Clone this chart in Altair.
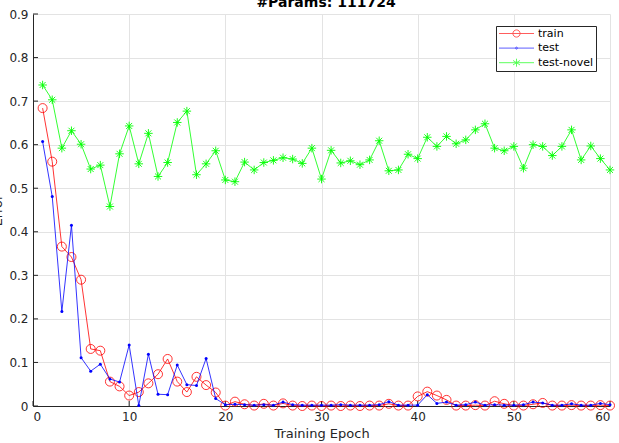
import altair as alt
import pandas as pd

# Error per training epoch for the three evaluation splits
epochs = list(range(1, 61))

train_err = [
    0.684, 0.561, 0.366, 0.342, 0.290, 0.131, 0.127, 0.056, 0.045, 0.024,
    0.032, 0.052, 0.073, 0.108, 0.056, 0.032, 0.067, 0.048, 0.031, 0.001,
    0.010, 0.004, 0.001, 0.005, 0.001, 0.006, 0.001, 0.000, 0.001, 0.000,
    0.001, 0.000, 0.001, 0.000, 0.001, 0.001, 0.005, 0.001, 0.001, 0.022,
    0.033, 0.024, 0.014, 0.001, 0.001, 0.002, 0.001, 0.011, 0.005, 0.001,
    0.001, 0.004, 0.007, 0.001, 0.001, 0.002, 0.001, 0.001, 0.002, 0.001,
]

test_err = [
    0.607, 0.481, 0.217, 0.415, 0.111, 0.080, 0.096, 0.062, 0.055, 0.140,
    0.001, 0.119, 0.027, 0.026, 0.094, 0.049, 0.047, 0.109, 0.017, 0.003,
    0.004, 0.003, 0.002, 0.003, 0.002, 0.009, 0.003, 0.002, 0.002, 0.002,
    0.002, 0.003, 0.002, 0.002, 0.002, 0.003, 0.010, 0.002, 0.002, 0.002,
    0.026, 0.006, 0.009, 0.002, 0.003, 0.009, 0.002, 0.003, 0.002, 0.002,
    0.003, 0.009, 0.007, 0.002, 0.002, 0.005, 0.002, 0.002, 0.006, 0.003,
]

novel_err = [
    0.737, 0.703, 0.592, 0.632, 0.601, 0.544, 0.553, 0.458, 0.579, 0.643,
    0.556, 0.626, 0.527, 0.559, 0.651, 0.677, 0.531, 0.556, 0.586, 0.519,
    0.515, 0.560, 0.542, 0.559, 0.564, 0.570, 0.567, 0.557, 0.592, 0.521,
    0.587, 0.558, 0.563, 0.554, 0.565, 0.609, 0.540, 0.542, 0.578, 0.568,
    0.617, 0.596, 0.619, 0.602, 0.611, 0.634, 0.648, 0.592, 0.586, 0.596,
    0.546, 0.600, 0.596, 0.575, 0.596, 0.634, 0.565, 0.597, 0.568, 0.542,
]

series_names = ["train", "test", "test-novel"]
series_colors = ["#ff0000", "#0000ff", "#00ff00"]

x_ticks = [0, 10, 20, 30, 40, 50, 60]
y_ticks = [0, 0.1, 0.2, 0.3, 0.4, 0.5, 0.6, 0.7, 0.8, 0.9]

chart_title = "#Params: 111724"

df = pd.DataFrame({
    "epoch": epochs * 3,
    "error": train_err + test_err + novel_err,
    "series": [n for n in series_names for _ in epochs],
})

W, H = 577, 392
FONT = "DejaVu Sans"
AX_COLOR = "#262626"

x_scale = alt.Scale(domain=[0, 60], nice=False, zero=False)
y_scale = alt.Scale(domain=[0, 0.9], nice=False, zero=False)

x_axis = alt.Axis(
    values=x_ticks, title="Training Epoch", titleY=31.5,
    titleBaseline="alphabetic", titleFontSize=13, labelPadding=5,
)
y_axis = alt.Axis(
    values=y_ticks, title="Error", titleAngle=270, titleX=-32, titleY=H / 2,
    titleBaseline="alphabetic", titleAlign="center", titleFontSize=13,
    labelPadding=5, format="~g",
)

x_enc = alt.X("epoch:Q", scale=x_scale, axis=x_axis)
y_enc = alt.Y("error:Q", scale=y_scale, axis=y_axis)

# marker shapes (custom paths are in symbol units, +-1 spans sqrt(size) px)
asterisk = "M0,-1V1M-1,0H1M-0.7,-0.7L0.7,0.7M-0.7,0.7L0.7,-0.7"
marker_style = {
    "train": dict(shape="circle", size=81, filled=False, strokeWidth=0.8),
    "test": dict(shape="circle", size=9, filled=True, strokeWidth=0),
    "test-novel": dict(shape=asterisk, size=72, filled=False, strokeWidth=0.9),
}

base = alt.Chart(df)
layers = []
for name, col in zip(series_names, series_colors):
    sub = base.transform_filter(alt.datum.series == name)
    layers.append(
        sub.mark_line(strokeWidth=0.8, color=col).encode(
            x=x_enc, y=y_enc, order="epoch:Q"
        )
    )
    layers.append(
        sub.mark_point(opacity=1, color=col, **marker_style[name]).encode(
            x=x_enc, y=y_enc
        )
    )

# inward tick marks on the left and bottom axes
y_tick_marks = alt.Chart(pd.DataFrame({"error": y_ticks})).mark_rule(
    color=AX_COLOR, strokeWidth=1
).encode(
    y=y_enc, x=alt.value(0), x2=alt.value(5),
)
x_tick_marks = alt.Chart(pd.DataFrame({"epoch": x_ticks})).mark_rule(
    color=AX_COLOR, strokeWidth=1
).encode(
    x=x_enc, y=alt.value(H), y2=alt.value(H - 5),
)

# legend entries: a line sample with the series marker on it
legend_paths = [
    "M-3.5,0H3.5M0.72,0A0.72,0.72,0,1,1,-0.72,0A0.72,0.72,0,1,1,0.72,0",
    "M-3.5,0H3.5M0.2,0A0.2,0.2,0,1,1,-0.2,0A0.2,0.2,0,1,1,0.2,0",
    "M-3.5,0H3.5M0,-0.8V0.8M-0.7,-0.45L0.7,0.45M-0.7,0.45L0.7,-0.45",
]
legend_def = alt.Legend(
    title=None, orient="none", legendX=463, legendY=12,
    padding=2, rowPadding=2.6, strokeColor=AX_COLOR, fillColor="white",
    cornerRadius=0, symbolSize=100, symbolOffset=13, labelOffset=16,
    symbolStrokeWidth=0.9, labelFont=FONT, labelFontSize=11,
    labelColor="#000000",
)
legend_layer = base.transform_filter(alt.datum.epoch < 0).mark_point(
    filled=False, strokeWidth=0.9
).encode(
    color=alt.Color(
        "series:N",
        scale=alt.Scale(domain=series_names, range=series_colors),
        legend=legend_def,
    ),
    shape=alt.Shape(
        "series:N",
        scale=alt.Scale(domain=series_names, range=legend_paths),
        legend=legend_def,
    ),
)

# bold heading above the axes, partly running off the top edge
title_layer = alt.Chart(pd.DataFrame({"label": [chart_title]})).mark_text(
    font=FONT, fontSize=14, fontWeight="bold", color="#000000",
    align="center", baseline="alphabetic",
).encode(
    text="label:N", x=alt.value(W / 2 + 4.5), y=alt.value(-7),
)

chart = alt.layer(
    y_tick_marks, x_tick_marks, *layers, legend_layer, title_layer
).properties(
    width=W,
    height=H,
    background="white",
    autosize=alt.AutoSizeParams(type="none"),
    padding={"left": 33, "top": 14, "right": 9, "bottom": 37},
).configure_view(
    stroke=None
).configure_axis(
    grid=True, gridColor="#e3e3e3", gridWidth=1,
    domainColor=AX_COLOR, domainWidth=1, tickSize=0,
    labelFont=FONT, labelFontSize=12, labelColor=AX_COLOR,
    titleFont=FONT, titleColor=AX_COLOR, titleFontWeight="normal",
)

chart.save("out.html", embed_options={"renderer": "svg", "actions": False})
